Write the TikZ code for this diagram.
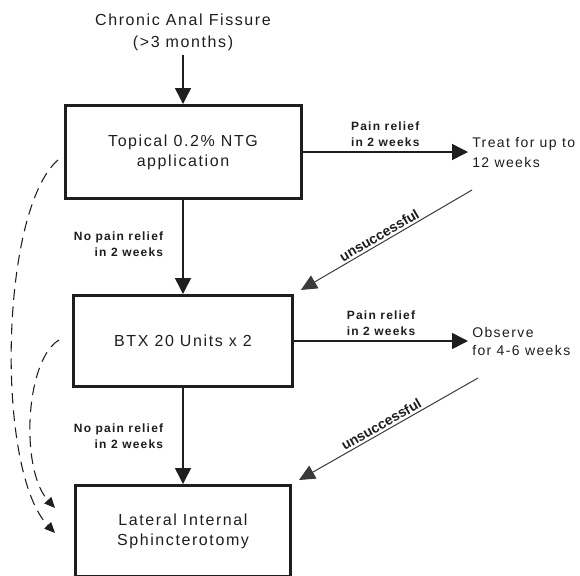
\documentclass[tikz,border=0pt]{standalone}
\usepackage{fontspec}
\setmainfont{Liberation Sans}
\newfontfamily\dgf[LetterSpace=10]{Liberation Sans}
\newfontfamily\dgn{Liberation Sans}
\usetikzlibrary{arrows.meta}
\definecolor{ink}{HTML}{1E1E1E}
\definecolor{thin}{HTML}{3A3A3A}
\begin{document}
\begin{tikzpicture}[x=0.75pt,y=-0.75pt,
  box/.style={draw=ink, line width=2.25pt, inner sep=0pt, text=ink},
  mainf/.style={font=\dgf\fontsize{12pt}{15pt}\selectfont, text=ink},
  titlef/.style={font=\dgf\fontsize{12pt}{16.5pt}\selectfont, text=ink},
  sidef/.style={font=\dgf\fontsize{10.5pt}{15pt}\selectfont, text=ink, align=left, inner sep=3pt},
  lab/.style={font=\dgf\bfseries\fontsize{9pt}{12pt}\selectfont, text=ink},
  slab/.style={font=\dgn\bfseries\fontsize{10.5pt}{12pt}\selectfont, text=ink},
  arr/.style={draw=ink, line width=1.1pt, -{Triangle[length=12pt,width=12pt]}},
  darr/.style={draw=thin, line width=0.75pt, -{Triangle[length=12pt,width=11pt]}},
  dsh/.style={draw=ink, line width=0.8pt, dash pattern=on 8pt off 5pt, -{Triangle[length=8pt,width=7pt]}}
]
\useasboundingbox (0,0) rectangle (580,575);

\node[titlef, align=center] (title) at (183,32) {Chronic Anal Fissure\\(>3 months)};

\node[box, mainf, align=center, minimum width=177pt, minimum height=69.75pt] (b1) at (183,152) {Topical 0.2\% NTG\\application};
\node[box, mainf, minimum width=164.25pt, minimum height=68.25pt] (b2) at (183,341) {BTX 20 Units x 2};
\node[box, mainf, align=center, minimum width=161.25pt, minimum height=68.25pt] (b3) at (183,531) {Lateral Internal\\Sphincterotomy};

\node[sidef, anchor=west] (treat) at (468,152) {Treat for up to\\12 weeks};
\node[sidef, anchor=west, font=\dgf\fontsize{10.5pt}{13.5pt}\selectfont] (obs) at (468,341) {Observe\\for 4-6 weeks};

\draw[arr] (title.south) -- (b1.north);

\draw[arr] (b1.east) -- node[lab, align=center, above] {Pain relief\\in 2 weeks} (treat.west);
\draw[arr] (b2.east) -- node[lab, align=center, above] {Pain relief\\in 2 weeks} (obs.west);

\draw[arr] (b1.south) -- node[pos=0.47, lab, align=right, left=11pt] {No pain relief\\in 2 weeks} (b2.north);
\draw[arr] (b2.south) -- node[lab, align=right, left=11pt] {No pain relief\\in 2 weeks} (b3.north);

\coordinate (u1) at (472,190);
\coordinate (u2) at (478,378);
\draw[darr, shorten >=6pt] (u1) -- node[slab, sloped, above, inner sep=1.5pt] {unsuccessful} (b2.north east);
\draw[darr, shorten >=6pt] (u2) -- node[slab, sloped, above, inner sep=1.5pt] {unsuccessful} (b3.north east);

\coordinate (c1) at (58,160);
\coordinate (e1) at (55,533);
\coordinate (c2) at (59,340);
\coordinate (e2) at (55,508);
\draw[dsh] (c1) .. controls (0,210) and (-5,470) .. (e1);
\draw[dsh] (c2) .. controls (25,360) and (20,470) .. (e2);
\end{tikzpicture}
\end{document}
